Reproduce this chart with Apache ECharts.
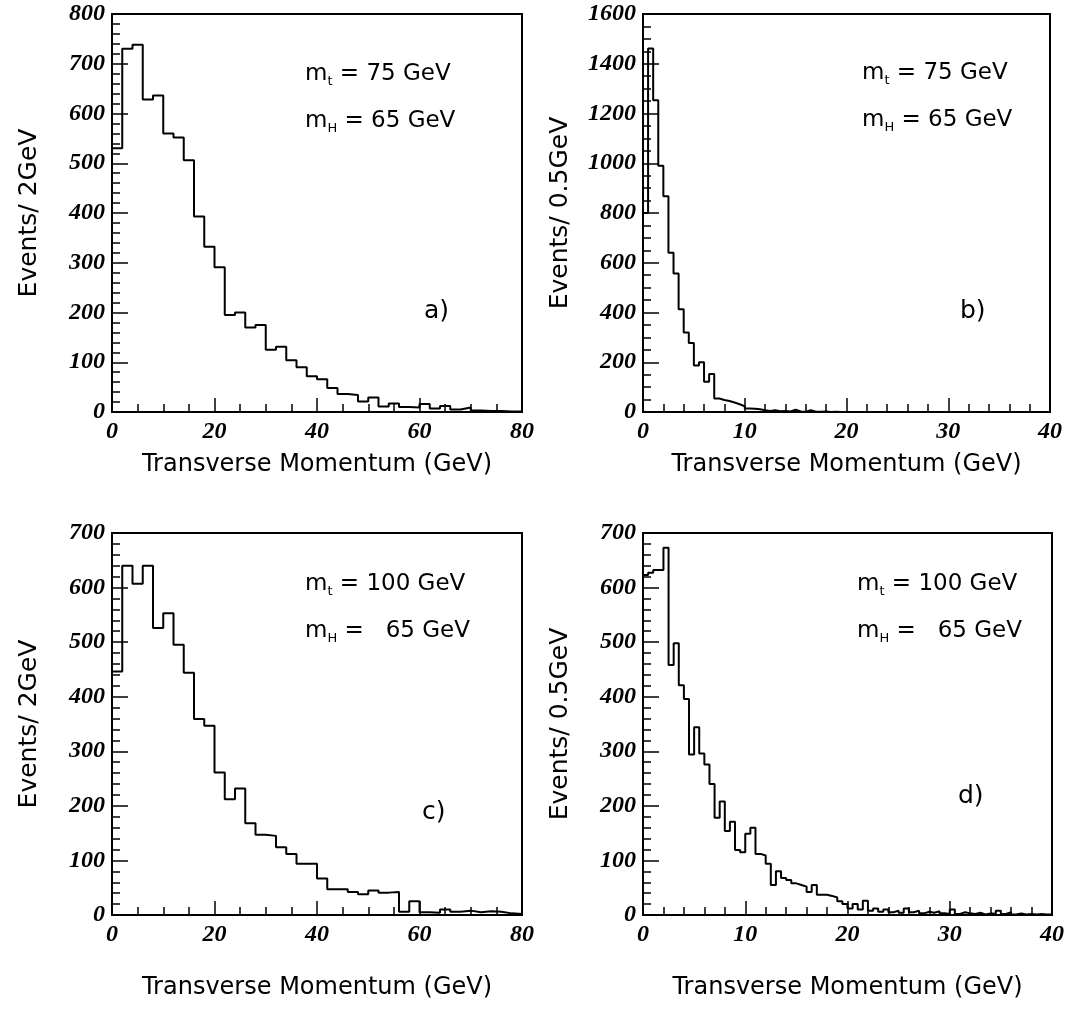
<!DOCTYPE html>
<html><head><meta charset="utf-8">
<script src="https://cdn.jsdelivr.net/npm/echarts@6/dist/echarts.min.js"></script>
<style>html,body{margin:0;padding:0;background:#fff}#c{width:1076px;height:1011px}</style>
</head><body><div id="c"></div><script>
// ---- data ----
const binWidthA = 2, binWidthB = 0.5, binWidthC = 2, binWidthD = 0.5;
const binsA = [530, 730, 738, 628, 636, 560, 552, 506, 393, 332, 291, 195, 200, 170, 175, 125, 131, 104, 90, 72,
  66, 48, 36, 34, 21, 29, 11, 17, 10, 9, 16, 7, 12, 5, 9, 3, 2, 2, 1, 1];
const binsB = [800, 1461, 1253, 990, 867, 640, 557, 413, 320, 277, 187, 200, 122, 153, 54, 48, 44, 38, 31, 23,
  14, 13, 11, 7, 4, 7, 3, 4, 2, 9, 2, 1, 7, 1, 1, 2, 0, 1, 0, 0,
  0, 0, 0, 0, 0, 0, 0, 0, 0, 0, 0, 0, 0, 0, 0, 0, 0, 0, 0, 0,
  0, 0, 0, 0, 0, 0, 0, 0, 0, 0, 0, 0, 0, 0, 0, 0, 0, 0, 0, 0];
const binsC = [446, 640, 607, 640, 526, 553, 495, 444, 359, 347, 261, 212, 232, 168, 147, 145, 124, 112, 94, 94,
  67, 47, 47, 42, 38, 45, 41, 42, 6, 25, 5, 4, 10, 6, 8, 5, 7, 6, 3, 2];
const binsD = [623, 627, 632, 632, 673, 458, 498, 421, 396, 294, 344, 296, 276, 240, 178, 208, 154, 171, 119, 115,
  149, 160, 112, 109, 94, 55, 80, 68, 64, 58, 55, 52, 42, 55, 37, 37, 35, 32, 25, 20,
  12, 20, 10, 26, 8, 12, 6, 10, 5, 8, 4, 12, 5, 8, 3, 6, 4, 7, 3, 2,
  10, 2, 5, 3, 2, 4, 1, 3, 2, 8, 2, 5, 1, 3, 1, 2, 1, 2, 1, 1];
const xMax = [80, 40, 80, 40];
const xInterval = [20, 10, 20, 10];
const xMinorSplit = [4, 5, 4, 5];
const yMax = [800, 1600, 700, 700];
const yInterval = [100, 200, 100, 100];
const yMinorSplit = [5, 4, 5, 5];
const yNames = ['Events/ 2GeV', 'Events/ 0.5GeV', 'Events/ 2GeV', 'Events/ 0.5GeV'];
const xName = 'Transverse Momentum (GeV)';
const mtLabels = ['75', '75', '100', '100'];
const mhLabels = ['65', '65', ' 65', ' 65'];
const panelLabels = ['a)', 'b)', 'c)', 'd)'];

// ---- layout ----
const grids = [
  {left: 112, top: 14, width: 410, height: 398},
  {left: 643, top: 14, width: 407, height: 398},
  {left: 112, top: 533, width: 410, height: 382},
  {left: 643, top: 533, width: 409, height: 382}
];
const xNameGap = [41, 41, 61, 61];
const SANS = 'DejaVu Sans';
const SERIF = 'Liberation Serif';

function hist(bins, w) {
  const d = bins.map((v, i) => [i * w, v]);
  d.push([bins.length * w, bins[bins.length - 1]]);
  return d;
}
const allBins = [binsA, binsB, binsC, binsD];
const widths = [binWidthA, binWidthB, binWidthC, binWidthD];

const tickLabel = {fontFamily: SERIF, fontStyle: 'italic', fontWeight: 'bold', fontSize: 24, color: '#000',
  formatter: v => String(v)};
const xAxes = [], yAxes = [], series = [];
for (let i = 0; i < 4; i++) {
  xAxes.push({
    gridIndex: i, type: 'value', min: 0, max: xMax[i], interval: xInterval[i],
    axisLine: {lineStyle: {color: '#000', width: 2}},
    axisTick: {inside: true, length: 14, lineStyle: {color: '#000', width: 1.5}},
    minorTick: {show: true, splitNumber: xMinorSplit[i], length: 8, lineStyle: {color: '#000', width: 1.5}},
    splitLine: {show: false},
    axisLabel: Object.assign({margin: 8}, tickLabel),
    name: xName, nameLocation: 'middle', nameGap: xNameGap[i],
    nameTextStyle: {fontFamily: SANS, fontSize: 24, color: '#000'}
  });
  yAxes.push({
    gridIndex: i, type: 'value', min: 0, max: yMax[i], interval: yInterval[i],
    axisLine: {show: true, lineStyle: {color: '#000', width: 2}},
    axisTick: {show: true, inside: true, length: 16, lineStyle: {color: '#000', width: 1.5}},
    minorTick: {show: true, splitNumber: yMinorSplit[i], length: 8, lineStyle: {color: '#000', width: 1.5}},
    splitLine: {show: false},
    axisLabel: Object.assign({margin: 7}, tickLabel),
    name: yNames[i], nameLocation: 'middle', nameGap: 70,
    nameTextStyle: {fontFamily: SANS, fontSize: 25, color: '#000'}
  });
  series.push({
    type: 'line', xAxisIndex: i, yAxisIndex: i, step: 'end', symbol: 'none',
    lineStyle: {color: '#000', width: 2}, data: hist(allBins[i], widths[i]), animation: false
  });
}

const rich = {
  m: {fontFamily: SANS, fontSize: 23, lineHeight: 28, fill: '#000'},
  s: {fontFamily: SANS, fontSize: 13, lineHeight: 14, verticalAlign: 'bottom', fill: '#000'}
};
const graphics = [];
const annoPos = [[305, 63], [862, 62], [305, 573], [857, 573]];
const labelPos = [[424, 299], [960, 299], [422, 800], [958, 784]];
for (let i = 0; i < 4; i++) {
  graphics.push({type: 'text', left: annoPos[i][0], top: annoPos[i][1],
    style: {text: '{m|m}{s|t}{m| = ' + mtLabels[i] + ' GeV}', rich: rich}});
  graphics.push({type: 'text', left: annoPos[i][0], top: annoPos[i][1] + 47,
    style: {text: '{m|m}{s|H}{m| = ' + mhLabels[i].replace(' ', '\u00a0\u00a0') + ' GeV}', rich: rich}});
  graphics.push({type: 'text', left: labelPos[i][0], top: labelPos[i][1],
    style: {text: panelLabels[i], fontFamily: SANS, fontSize: 25, fill: '#000'}});
}

const chart = echarts.init(document.getElementById('c'), null, {renderer: 'canvas'});
chart.setOption({
  animation: false,
  backgroundColor: '#fff',
  grid: grids.map(g => Object.assign({show: true, borderColor: '#000', borderWidth: 2, containLabel: false}, g)),
  xAxis: xAxes, yAxis: yAxes, series: series, graphic: graphics
});
</script></body></html>
